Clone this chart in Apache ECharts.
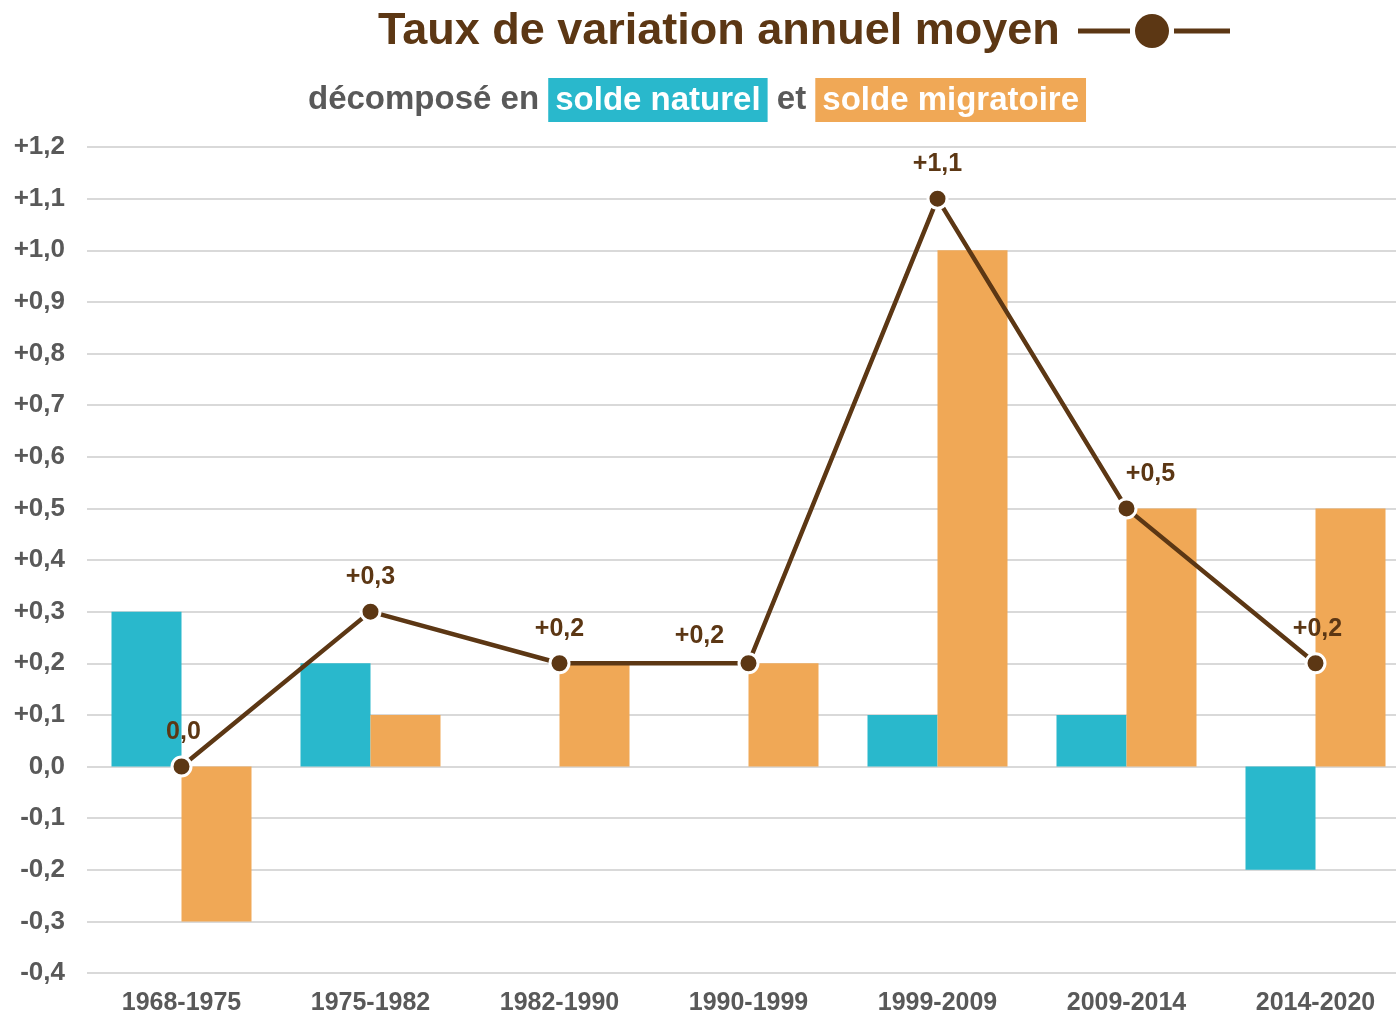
<!DOCTYPE html>
<html>
<head>
<meta charset="utf-8">
<script src="https://cdn.jsdelivr.net/npm/echarts@6/dist/echarts.min.js"></script>
<style>
  html, body { margin: 0; padding: 0; background: #fff; }
  #chart { width: 1396px; height: 1016px; }
</style>
</head>
<body>
<div id="chart"></div>
<script>
// périodes intercensitaires
const periods = ["1968-1975", "1975-1982", "1982-1990", "1990-1999", "1999-2009", "2009-2014", "2014-2020"];
// taux de variation annuel moyen (%)
const variation = [0.0, 0.3, 0.2, 0.2, 1.1, 0.5, 0.2];
// dû au solde naturel
const soldeNaturel = [0.3, 0.2, 0.0, 0.0, 0.1, 0.1, -0.2];
// dû au solde migratoire
const soldeMigratoire = [-0.3, 0.1, 0.2, 0.2, 1.0, 0.5, 0.5];

// petits décalages des étiquettes (style seulement)
const labelShift = [[2, 0], [0, 0], [0, 0], [-49, 7], [0, 0], [24, 0], [2, 0]];

const brown = "#5c3714";
const grey = "#595959";
const teal = "#29b8cc";
const orange = "#f0a856";
const font = "Liberation Sans, Arial, sans-serif";

function fmt(v) {
  const s = Math.abs(v).toFixed(1).replace(".", ",");
  if (Math.abs(v) < 1e-9) return "0,0";
  return (v > 0 ? "+" : "-") + s;
}

const chart = echarts.init(document.getElementById("chart"));

const option = {
  backgroundColor: "#fff",
  animation: false,
  textStyle: { fontFamily: font },
  title: [
    {
      text: "Taux de variation annuel moyen",
      left: 373,
      top: 4,
      textStyle: { color: brown, fontSize: 45, fontWeight: "bold", fontFamily: font }
    },
    {
      text: "{g|décomposé en }{n|solde naturel}{g| et }{m|solde migratoire}",
      left: 303,
      top: 73,
      textStyle: {
        fontFamily: font,
        rich: {
          g: { color: grey, fontSize: 33, fontWeight: "bold", fontFamily: font },
          n: { color: "#fff", fontSize: 33, fontWeight: "bold", fontFamily: font, backgroundColor: teal, padding: [6, 7, 5, 7] },
          m: { color: "#fff", fontSize: 33, fontWeight: "bold", fontFamily: font, backgroundColor: orange, padding: [6, 7, 5, 7] }
        }
      }
    }
  ],
  graphic: [
    { type: "line", shape: { x1: 1078, y1: 31, x2: 1130, y2: 31 }, style: { stroke: brown, lineWidth: 5 } },
    { type: "line", shape: { x1: 1174, y1: 31, x2: 1230, y2: 31 }, style: { stroke: brown, lineWidth: 5 } },
    { type: "circle", shape: { cx: 1152, cy: 31, r: 17 }, style: { fill: brown } }
  ],
  grid: { left: 87, top: 147, width: 1323, height: 826, containLabel: false, outerBoundsMode: "none" },
  xAxis: {
    type: "category",
    data: periods,
    boundaryGap: true,
    axisLine: { show: false },
    axisTick: { show: false },
    axisLabel: { color: grey, fontSize: 25, fontWeight: "bold", fontFamily: font, margin: 18, interval: 0 }
  },
  yAxis: {
    type: "value",
    min: -0.4,
    max: 1.2,
    interval: 0.1,
    axisLine: { show: false },
    axisTick: { show: false },
    splitLine: { lineStyle: { color: "#d9d9d9", width: 2 } },
    axisLabel: {
      color: grey, fontSize: 26, fontWeight: "bold", fontFamily: font, margin: 22,
      formatter: v => fmt(Math.round(v * 10) / 10)
    }
  },
  series: [
    {
      name: "solde naturel",
      type: "bar",
      data: soldeNaturel,
      barWidth: 70,
      barGap: "0%",
      itemStyle: { color: teal },
      z: 2
    },
    {
      name: "solde migratoire",
      type: "bar",
      data: soldeMigratoire,
      barWidth: 70,
      barGap: "0%",
      itemStyle: { color: orange },
      z: 2
    },
    {
      name: "Taux de variation annuel moyen",
      type: "line",
      data: variation.map((v, i) => ({
        value: v,
        label: { offset: labelShift[i] }
      })),
      symbol: "circle",
      symbolSize: 19,
      lineStyle: { color: brown, width: 4.5 },
      itemStyle: { color: brown, borderColor: "#fff", borderWidth: 3 },
      label: {
        show: true,
        position: "top",
        distance: 11,
        color: brown,
        fontSize: 25,
        fontWeight: "bold",
        fontFamily: font,
        formatter: p => fmt(p.value)
      },
      z: 5
    }
  ]
};

chart.setOption(option);
</script>
</body>
</html>
